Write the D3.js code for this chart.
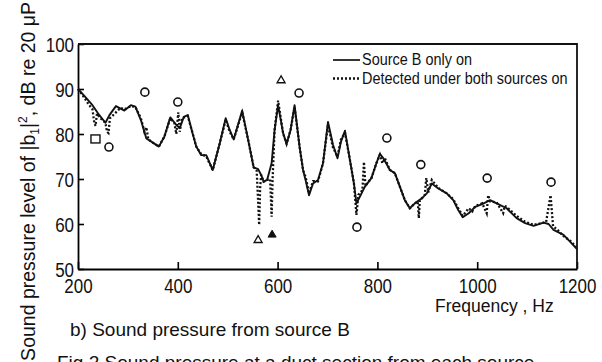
<!DOCTYPE html>
<html lang="en">
<head>
<meta charset="UTF-8">
<title>Sound pressure from source B</title>
<script src="https://d3js.org/d3.v7.min.js"></script>
<style>
  body { margin: 0; background: #fff; }
  text { font-family: "Liberation Sans", Arial, sans-serif; fill: #111; }
</style>
</head>
<body>
<div id="chart"></div>
<script>
// Source B only on (solid line)
var freqB  = [200, 210, 229, 240, 255, 263, 276, 293, 306, 315, 326, 337, 347, 362, 373, 385, 397, 404, 412, 420,
              430, 437, 447, 457, 470, 484, 496, 504, 512, 529, 541, 552, 561, 567, 572, 579, 588, 594, 601, 611,
              618, 626, 634, 644, 651, 656, 663, 671, 681, 691, 701, 711, 720, 727, 735, 745, 753, 758, 765, 775,
              788, 798, 805, 812, 825, 835, 845, 855, 865, 875, 889, 899, 909, 922, 939, 952, 962, 971, 983, 996,
              1010, 1026, 1039, 1059, 1079, 1096, 1113, 1133, 1143, 1153, 1173, 1186, 1200];
var levelB = [90, 88.8, 86.4, 84.6, 82.5, 84.2, 86.2, 85.2, 86.4, 86.1, 83.1, 79.0, 78.3, 77.2, 79.4, 83.7, 82.0, 81.3, 83.8, 84.2,
              80.0, 77.2, 75.3, 75.3, 72.0, 77.9, 83.5, 80.9, 78.8, 85.2, 78.7, 72.6, 72.2, 70.9, 69.4, 69.8, 73.5, 80.9, 86.4, 80.2,
              77.8, 80.9, 86.4, 77.2, 72.0, 69.8, 66.4, 69.0, 69.8, 73.5, 82.7, 77.6, 74.6, 78.3, 80.7, 74.2, 69.0, 64.6, 66.1, 68.3,
              70.2, 73.5, 75.6, 74.6, 72.0, 71.3, 68.3, 65.3, 63.5, 64.6, 65.7, 66.8, 69.0, 67.9, 66.8, 65.3, 63.1, 61.5, 62.4, 63.8,
              64.4, 65.3, 64.6, 63.5, 61.3, 60.2, 59.6, 60.3, 60.0, 58.7, 57.6, 56.1, 54.4];

// Detected under both sources on (dotted line)
var freqD  = [200, 210, 222, 229, 232, 235, 238, 245, 255, 258, 261, 264, 276, 285, 293, 306, 315, 326, 333, 337,
              341, 347, 362, 373, 385, 393, 397, 401, 404, 408, 420, 430, 437, 447, 457, 470, 484, 496, 504, 512,
              529, 541, 552, 558, 561, 563, 565, 567, 572, 579, 585, 588, 590, 594, 601, 611, 618, 626, 634, 644,
              651, 656, 663, 667, 671, 681, 691, 701, 711, 720, 727, 735, 745, 753, 758, 762, 770, 773, 776, 788,
              798, 805, 810, 815, 825, 835, 845, 855, 865, 875, 881, 883, 885, 895, 898, 902, 909, 922, 939, 952,
              962, 971, 983, 990, 996, 1010, 1019, 1022, 1026, 1039, 1052, 1055, 1059, 1079, 1096, 1113, 1133, 1138, 1147, 1152,
              1160, 1173, 1186, 1198];
var levelD = [90, 88.5, 86.5, 85.5, 83.0, 81.8, 84.5, 83.5, 82.5, 80.5, 80.2, 83.5, 84.8, 85.8, 85.5, 86.2, 86.0, 83.5, 80.5, 81.5,
              78.8, 78.3, 77.2, 79.4, 83.5, 82.5, 80.0, 84.8, 80.5, 83.5, 84.0, 80.0, 77.2, 75.5, 75.0, 72.0, 77.9, 83.2, 80.5, 78.8,
              84.8, 78.7, 72.6, 72.0, 65.0, 59.8, 68.0, 70.9, 69.4, 69.8, 70.0, 61.6, 70.0, 80.9, 87.4, 80.2, 77.8, 80.9, 86.0, 77.2,
              72.0, 70.5, 66.8, 68.2, 69.5, 69.5, 73.5, 82.0, 77.0, 75.0, 78.8, 80.3, 74.2, 69.0, 62.0, 66.5, 67.5, 73.8, 68.5, 70.2,
              73.5, 75.4, 73.5, 74.6, 72.0, 71.3, 68.3, 65.3, 63.5, 64.6, 65.0, 61.3, 65.2, 66.5, 70.2, 67.0, 69.8, 68.0, 66.8, 65.5,
              63.5, 61.8, 63.5, 62.8, 64.0, 64.6, 62.4, 66.4, 65.0, 64.8, 62.4, 64.0, 63.8, 61.8, 60.5, 59.8, 60.3, 60.4, 66.4, 59.5,
              58.8, 57.3, 56.3, 55.0];

// markers
var circleFreq  = [262, 334, 400, 643, 819, 887, 1020, 1148, 759];
var circleLevel = [77.1, 89.3, 87.1, 89.1, 79.1, 73.2, 70.2, 69.3, 59.3];
var squareFreq  = [235];
var squareLevel = [78.9];
var openTriFreq  = [607, 561];
var openTriLevel = [91.9, 56.4];
var fillTriFreq  = [589];
var fillTriLevel = [57.6];

var xTicks = [200, 400, 600, 800, 1000, 1200];
var yTicks = [50, 60, 70, 80, 90, 100];

var W = 602, H = 362;
var plotLeft = 78, plotRight = 577, plotTop = 44, plotBottom = 269;
var condense = 0.87;

var svg = d3.select("#chart").append("svg")
    .attr("width", W)
    .attr("height", H);

var x = d3.scaleLinear().domain([200, 1200]).range([plotLeft, plotRight]);
var y = d3.scaleLinear().domain([50, 100]).range([plotBottom, plotTop]);

// axes, ticks pointing inward
var yAxis = svg.append("g")
    .attr("transform", "translate(" + plotLeft + ",0)")
    .call(d3.axisLeft(y).tickValues(yTicks).tickSize(-6).tickSizeOuter(0).tickFormat(d3.format("d")));
yAxis.select(".domain").attr("stroke-width", 1.8);
yAxis.selectAll(".tick line").attr("stroke-width", 1.6);
yAxis.selectAll(".tick text")
    .attr("x", -4 / condense)
    .attr("dy", "0.38em")
    .attr("transform", "scale(" + condense + ",1)")
    .style("font-size", "19.5px")
    .style("font-family", "'Liberation Sans', Arial, sans-serif")
    .style("fill", "#111");

var xAxis = svg.append("g")
    .attr("transform", "translate(0," + plotBottom + ")")
    .call(d3.axisBottom(x).tickValues(xTicks).tickSize(-7).tickSizeOuter(0).tickFormat(d3.format("d")));
xAxis.select(".domain").attr("stroke-width", 1.8);
xAxis.selectAll(".tick line").attr("stroke-width", 1.6);
xAxis.selectAll(".tick text")
    .attr("y", 24)
    .attr("dy", null)
    .attr("transform", "scale(" + condense + ",1)")
    .style("font-size", "19.5px")
    .style("font-family", "'Liberation Sans', Arial, sans-serif")
    .style("fill", "#111");

// top and right border
svg.append("path")
    .attr("d", "M" + plotLeft + "," + plotTop + "H" + plotRight + "V" + plotBottom)
    .attr("fill", "none")
    .attr("stroke", "#111")
    .attr("stroke-width", 1.8);

var line = d3.line()
    .x(d => x(d[0]))
    .y(d => y(d[1]));

var solid = freqB.map((f, i) => [f, levelB[i]]);
var dotted = freqD.map((f, i) => [f, levelD[i]]);

svg.append("path")
    .datum(dotted)
    .attr("d", line)
    .attr("fill", "none")
    .attr("stroke", "#111")
    .attr("stroke-width", 2.3)
    .attr("stroke-dasharray", "2,2");

svg.append("path")
    .datum(solid)
    .attr("d", line)
    .attr("fill", "none")
    .attr("stroke", "#111")
    .attr("stroke-width", 1.9)
    .attr("stroke-linejoin", "round");

// markers
svg.selectAll(".circ")
    .data(circleFreq.map((f, i) => [f, circleLevel[i]]))
    .enter().append("circle")
    .attr("class", "circ")
    .attr("cx", d => x(d[0]))
    .attr("cy", d => y(d[1]))
    .attr("r", 4)
    .attr("fill", "#fff")
    .attr("stroke", "#111")
    .attr("stroke-width", 1.6);

svg.selectAll(".sq")
    .data(squareFreq.map((f, i) => [f, squareLevel[i]]))
    .enter().append("rect")
    .attr("class", "sq")
    .attr("x", d => x(d[0]) - 4.5)
    .attr("y", d => y(d[1]) - 4)
    .attr("width", 9)
    .attr("height", 8)
    .attr("fill", "#fff")
    .attr("stroke", "#111")
    .attr("stroke-width", 1.4);

var tri = d3.symbol().type(d3.symbolTriangle).size(28);

svg.selectAll(".otri")
    .data(openTriFreq.map((f, i) => [f, openTriLevel[i]]))
    .enter().append("path")
    .attr("class", "otri")
    .attr("transform", d => "translate(" + x(d[0]) + "," + y(d[1]) + ")")
    .attr("d", tri)
    .attr("fill", "#fff")
    .attr("stroke", "#111")
    .attr("stroke-width", 1.3);

svg.selectAll(".ftri")
    .data(fillTriFreq.map((f, i) => [f, fillTriLevel[i]]))
    .enter().append("path")
    .attr("class", "ftri")
    .attr("transform", d => "translate(" + x(d[0]) + "," + y(d[1]) + ")")
    .attr("d", tri)
    .attr("fill", "#111")
    .attr("stroke", "#111")
    .attr("stroke-width", 1);

// legend
var legend = svg.append("g");
legend.append("line")
    .attr("x1", 333).attr("x2", 360).attr("y1", 60).attr("y2", 60)
    .attr("stroke", "#111").attr("stroke-width", 1.7);
legend.append("line")
    .attr("x1", 333).attr("x2", 360).attr("y1", 78.5).attr("y2", 78.5)
    .attr("stroke", "#111").attr("stroke-width", 2.3).attr("stroke-dasharray", "2,2");
legend.append("text")
    .attr("transform", "translate(362,65) scale(0.86,1)")
    .style("font-size", "16.8px")
    .text("Source B only on");
legend.append("text")
    .attr("transform", "translate(362,83.5) scale(0.86,1)")
    .style("font-size", "16.8px")
    .text("Detected under both sources on");

// axis titles and captions
svg.append("text")
    .attr("x", 435)
    .attr("y", 312)
    .style("font-size", "17.5px")
    .text("Frequency , Hz");

var yTitle = svg.append("text")
    .attr("transform", "translate(34.5,2) rotate(-90)")
    .attr("text-anchor", "end")
    .style("font-size", "19.5px");
yTitle.append("tspan").text("Sound pressure level of |b");
yTitle.append("tspan").attr("dy", 4).style("font-size", "12px").text("1");
yTitle.append("tspan").attr("dy", -4).text("|");
yTitle.append("tspan").attr("dy", -8).style("font-size", "12px").text("2");
yTitle.append("tspan").attr("dy", 8).text(", dB re 20 μP");

svg.append("text")
    .attr("x", 70)
    .attr("y", 336)
    .style("font-size", "19px")
    .text("b) Sound pressure from source B");

svg.append("text")
    .attr("x", 57)
    .attr("y", 369)
    .style("font-size", "19px")
    .text("Fig.2  Sound pressure at a duct section from each source");
</script>
</body>
</html>
